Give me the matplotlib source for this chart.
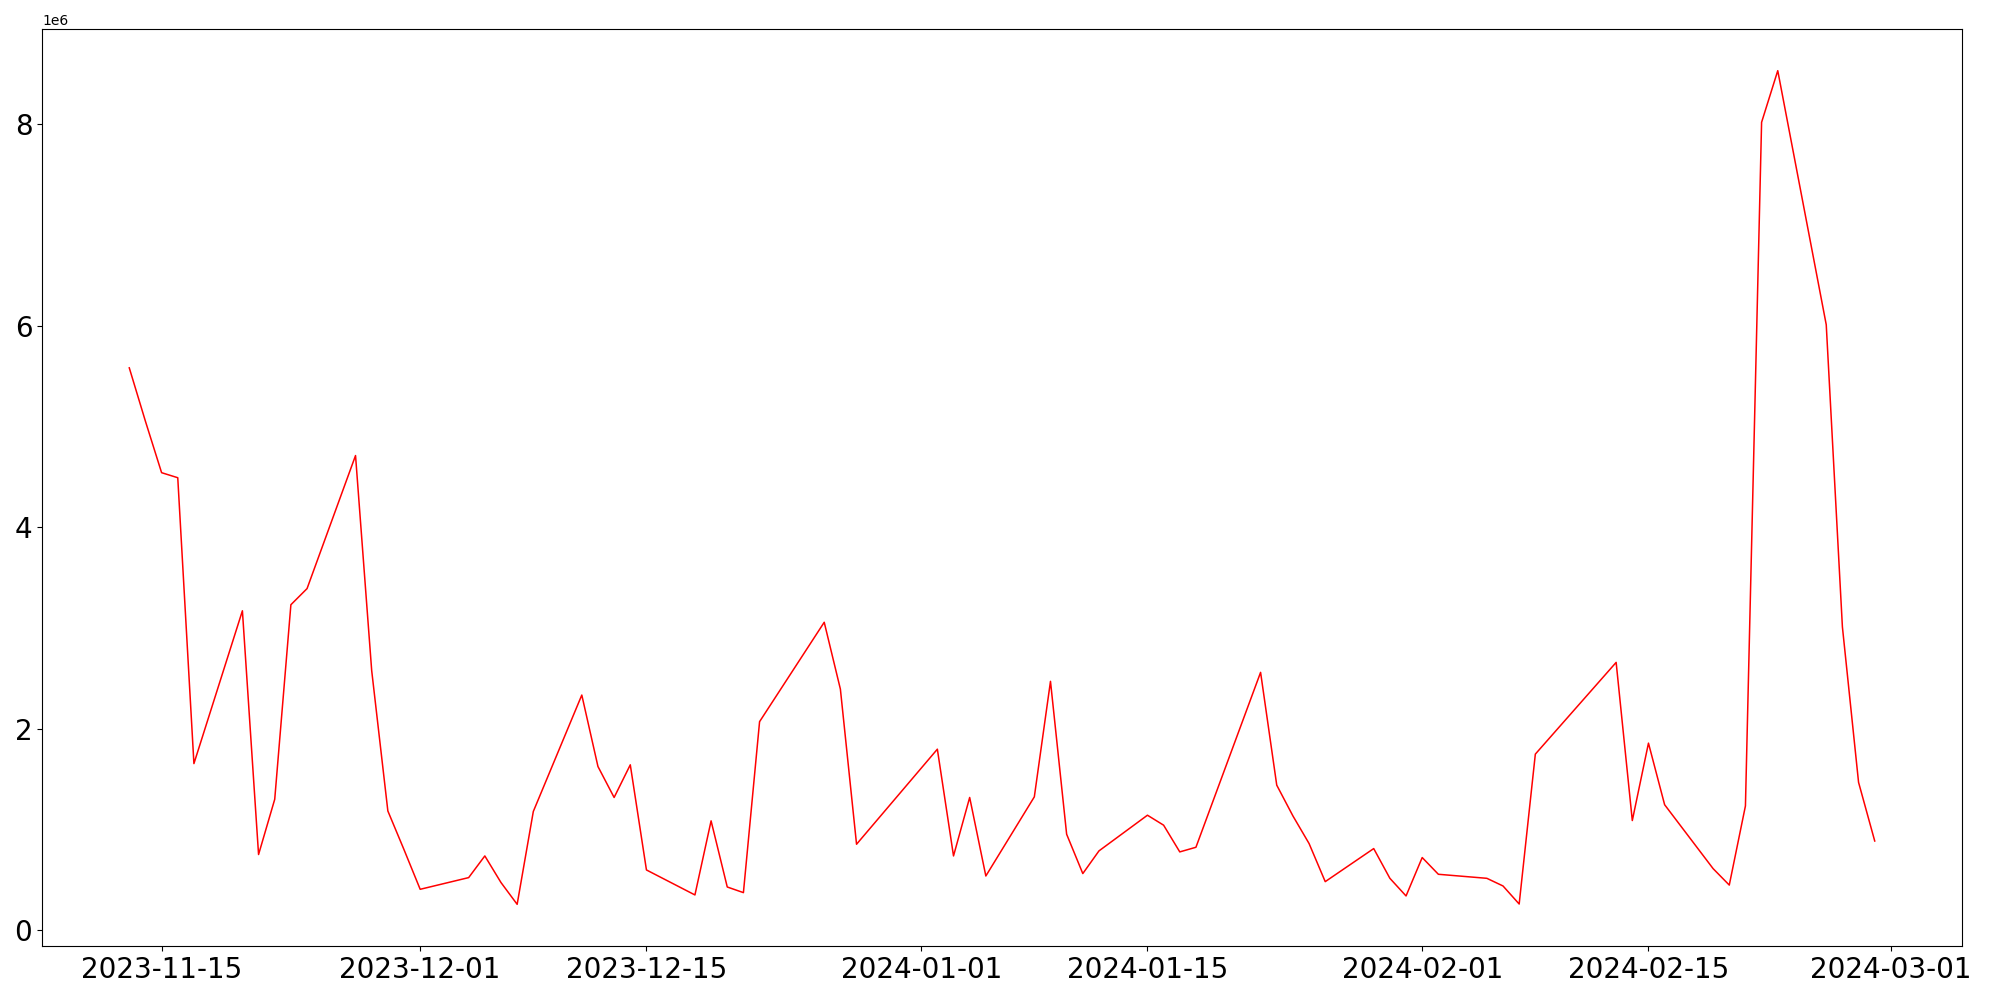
import matplotlib
matplotlib.use("Agg")
import matplotlib.pyplot as plt
import pandas as pd

dates = [
    "2023-11-13", "2023-11-14", "2023-11-15", "2023-11-16", "2023-11-17",
    "2023-11-20", "2023-11-21", "2023-11-22", "2023-11-23", "2023-11-24",
    "2023-11-27", "2023-11-28", "2023-11-29", "2023-11-30", "2023-12-01",
    "2023-12-04", "2023-12-05", "2023-12-06", "2023-12-07", "2023-12-08",
    "2023-12-11", "2023-12-12", "2023-12-13", "2023-12-14", "2023-12-15",
    "2023-12-18", "2023-12-19", "2023-12-20", "2023-12-21", "2023-12-22",
    "2023-12-26", "2023-12-27", "2023-12-28",
    "2024-01-02", "2024-01-03", "2024-01-04", "2024-01-05",
    "2024-01-08", "2024-01-09", "2024-01-10", "2024-01-11", "2024-01-12",
    "2024-01-15", "2024-01-16", "2024-01-17", "2024-01-18",
    "2024-01-22", "2024-01-23", "2024-01-24", "2024-01-25", "2024-01-26",
    "2024-01-29", "2024-01-30", "2024-01-31", "2024-02-01", "2024-02-02",
    "2024-02-05", "2024-02-06", "2024-02-07", "2024-02-08",
    "2024-02-13", "2024-02-14", "2024-02-15", "2024-02-16",
    "2024-02-19", "2024-02-20", "2024-02-21", "2024-02-22", "2024-02-23",
    "2024-02-26", "2024-02-27", "2024-02-28", "2024-02-29",
]

values = [
    5.58e6, 5.05e6, 4.54e6, 4.49e6, 1.654e6,
    3.17e6, 0.752e6, 1.30e6, 3.23e6, 3.39e6,
    4.71e6, 2.576e6, 1.184e6, 0.80e6, 0.407e6,
    0.523e6, 0.738e6, 0.474e6, 0.258e6, 1.179e6,
    2.334e6, 1.625e6, 1.318e6, 1.642e6, 0.599e6,
    0.351e6, 1.086e6, 0.43e6, 0.374e6, 2.07e6,
    3.056e6, 2.393e6, 0.854e6,
    1.797e6, 0.738e6, 1.318e6, 0.539e6,
    1.324e6, 2.47e6, 0.953e6, 0.563e6, 0.788e6,
    1.142e6, 1.043e6, 0.778e6, 0.824e6,
    2.559e6, 1.44e6, 1.135e6, 0.861e6, 0.483e6,
    0.811e6, 0.516e6, 0.341e6, 0.722e6, 0.556e6,
    0.516e6, 0.44e6, 0.261e6, 1.748e6,
    2.658e6, 1.089e6, 1.857e6, 1.246e6,
    0.612e6, 0.449e6, 1.234e6, 8.016e6, 8.528e6,
    6.008e6, 3.01e6, 1.468e6, 0.886e6,
]

x = pd.to_datetime(dates)

fig = plt.figure(figsize=(20, 10), dpi=100)
ax = fig.add_axes([0.021, 0.054, 0.960, 0.917])
ax.plot(x, values, color="red", linewidth=1.1)
ax.tick_params(axis="both", labelsize=20)

fig.savefig("out.png", dpi=100)
